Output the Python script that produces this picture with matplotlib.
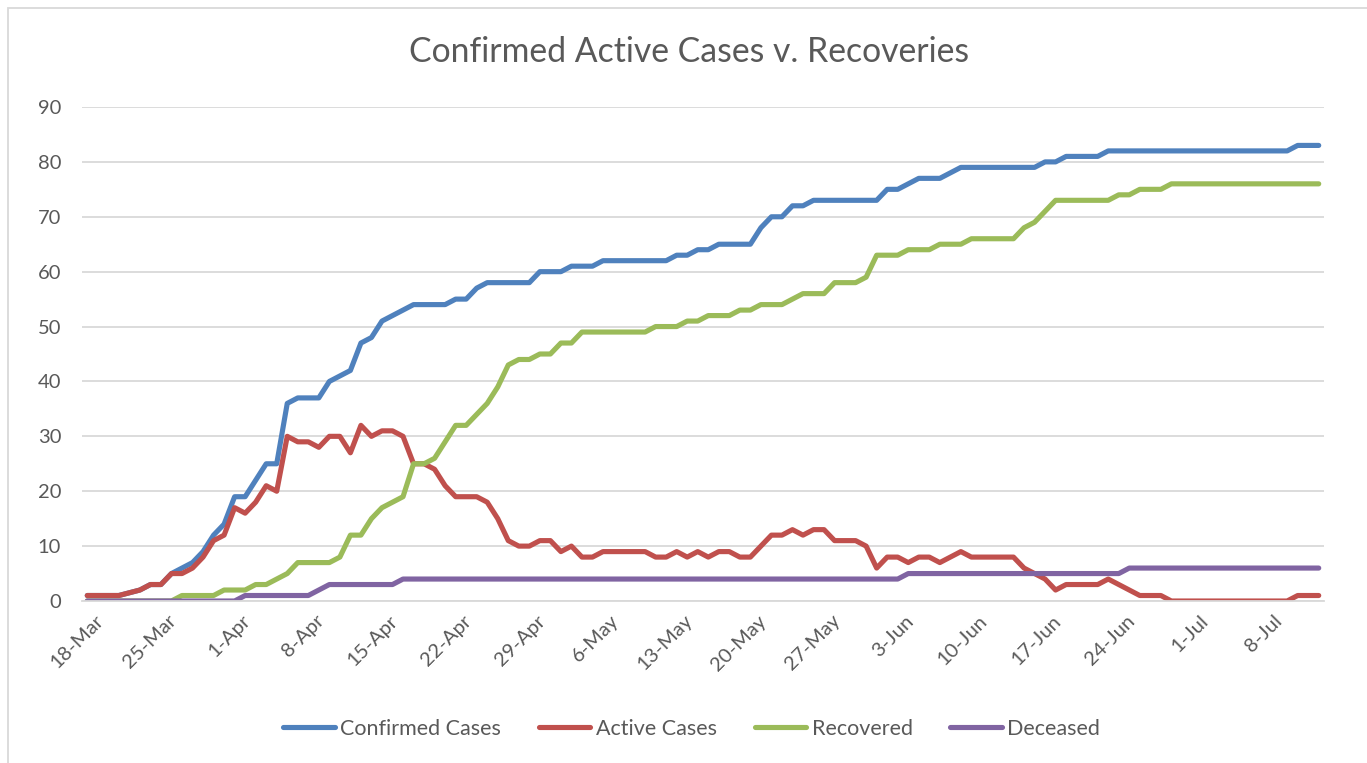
import matplotlib.pyplot as plt
from matplotlib.patches import Rectangle
from matplotlib.transforms import ScaledTranslation
import numpy as np

# daily values from 18-Mar, one per day (22-Mar has no entry)
confirmed = [1, 1, 1, 1, None, 2, 3, 3, 5, 6, 7, 9, 12, 14, 19, 19, 22, 25, 25, 36,
             37, 37, 37, 40, 41, 42, 47, 48, 51, 52, 53, 54, 54, 54, 54, 55, 55, 57, 58, 58,
             58, 58, 58, 60, 60, 60, 61, 61, 61, 62, 62, 62, 62, 62, 62, 62, 63, 63, 64, 64,
             65, 65, 65, 65, 68, 70, 70, 72, 72, 73, 73, 73, 73, 73, 73, 73, 75, 75, 76, 77,
             77, 77, 78, 79, 79, 79, 79, 79, 79, 79, 79, 80, 80, 81, 81, 81, 81, 82, 82, 82,
             82, 82, 82, 82, 82, 82, 82, 82, 82, 82, 82, 82, 82, 82, 82, 83, 83, 83]
active = [1, 1, 1, 1, None, 2, 3, 3, 5, 5, 6, 8, 11, 12, 17, 16, 18, 21, 20, 30,
          29, 29, 28, 30, 30, 27, 32, 30, 31, 31, 30, 25, 25, 24, 21, 19, 19, 19, 18, 15,
          11, 10, 10, 11, 11, 9, 10, 8, 8, 9, 9, 9, 9, 9, 8, 8, 9, 8, 9, 8,
          9, 9, 8, 8, 10, 12, 12, 13, 12, 13, 13, 11, 11, 11, 10, 6, 8, 8, 7, 8,
          8, 7, 8, 9, 8, 8, 8, 8, 8, 6, 5, 4, 2, 3, 3, 3, 3, 4, 3, 2,
          1, 1, 1, 0, 0, 0, 0, 0, 0, 0, 0, 0, 0, 0, 0, 1, 1, 1]
recovered = [0, 0, 0, 0, None, 0, 0, 0, 0, 1, 1, 1, 1, 2, 2, 2, 3, 3, 4, 5,
             7, 7, 7, 7, 8, 12, 12, 15, 17, 18, 19, 25, 25, 26, 29, 32, 32, 34, 36, 39,
             43, 44, 44, 45, 45, 47, 47, 49, 49, 49, 49, 49, 49, 49, 50, 50, 50, 51, 51, 52,
             52, 52, 53, 53, 54, 54, 54, 55, 56, 56, 56, 58, 58, 58, 59, 63, 63, 63, 64, 64,
             64, 65, 65, 65, 66, 66, 66, 66, 66, 68, 69, 71, 73, 73, 73, 73, 73, 73, 74, 74,
             75, 75, 75, 76, 76, 76, 76, 76, 76, 76, 76, 76, 76, 76, 76, 76, 76, 76]
deceased = [0, 0, 0, 0, None, 0, 0, 0, 0, 0, 0, 0, 0, 0, 0, 1, 1, 1, 1, 1,
            1, 1, 2, 3, 3, 3, 3, 3, 3, 3, 4, 4, 4, 4, 4, 4, 4, 4, 4, 4,
            4, 4, 4, 4, 4, 4, 4, 4, 4, 4, 4, 4, 4, 4, 4, 4, 4, 4, 4, 4,
            4, 4, 4, 4, 4, 4, 4, 4, 4, 4, 4, 4, 4, 4, 4, 4, 4, 4, 5, 5,
            5, 5, 5, 5, 5, 5, 5, 5, 5, 5, 5, 5, 5, 5, 5, 5, 5, 5, 5, 6,
            6, 6, 6, 6, 6, 6, 6, 6, 6, 6, 6, 6, 6, 6, 6, 6, 6, 6]

tick_labels = ['18-Mar', '25-Mar', '1-Apr', '8-Apr', '15-Apr', '22-Apr', '29-Apr',
               '6-May', '13-May', '20-May', '27-May', '3-Jun', '10-Jun', '17-Jun',
               '24-Jun', '1-Jul', '8-Jul']
y_ticks = [0, 10, 20, 30, 40, 50, 60, 70, 80, 90]

series = [('Confirmed Cases', confirmed, '#4F81BD'),
          ('Active Cases', active, '#C0504D'),
          ('Recovered', recovered, '#9BBB59'),
          ('Deceased', deceased, '#8064A2')]

plt.rcParams['font.family'] = ['Lato', 'DejaVu Sans']
text_color = '#595959'
grid_color = '#D9D9D9'

fig = plt.figure(figsize=(13.67, 7.63), dpi=100)
ax = fig.add_axes([82 / 1367, 1 - 601 / 763, 1242 / 1367, 494 / 763])

n = len(confirmed)
days = np.arange(n)
for name, vals, color in series:
    y = np.array(vals, dtype=float)
    ok = ~np.isnan(y)
    ax.plot(days[ok], y[ok], color=color, lw=3.7, label=name,
            solid_capstyle='round', solid_joinstyle='round')

ax.set_xlim(-0.5, n - 0.5)
ax.set_ylim(0, 90)
ax.set_yticks(y_ticks)
tick_pos = np.arange(0, n, 7)
ax.set_xticks(tick_pos)
ax.set_xticklabels([])
# rotated date labels, end of text a bit right of the tick like Excel
shift = ScaledTranslation(13 / 100, -17 / 100, fig.dpi_scale_trans)
for x, lab in zip(tick_pos, tick_labels):
    ax.text(x, 0, lab, transform=ax.get_xaxis_transform() + shift,
            rotation=45, ha='right', va='center', rotation_mode='anchor',
            fontsize=14.5, color=text_color)

ax.yaxis.grid(True, color=grid_color, lw=1.3)
ax.set_axisbelow(True)
for s in ['top', 'right', 'left']:
    ax.spines[s].set_visible(False)
ax.spines['bottom'].set_color(grid_color)
ax.spines['bottom'].set_linewidth(1.3)
ax.tick_params(axis='both', length=0, labelsize=14.5, labelcolor=text_color)
ax.tick_params(axis='y', pad=15)

fig.text(0.504, 1 - 52 / 763, 'Confirmed Active Cases v. Recoveries',
         ha='center', va='center', fontsize=24.3, color=text_color)

fig.legend(loc='center', bbox_to_anchor=(0.506, 1 - 729 / 763), ncol=4,
           frameon=False, fontsize=15.5, handlelength=2.4, handletextpad=0.25,
           columnspacing=1.75, labelcolor=text_color)

fig.patches.append(Rectangle((8 / 1367, -0.1), 1.2, 1.1 - 8 / 763, fill=False,
                             edgecolor=grid_color, lw=1.3, transform=fig.transFigure))

fig.savefig('out.png', dpi=100)
